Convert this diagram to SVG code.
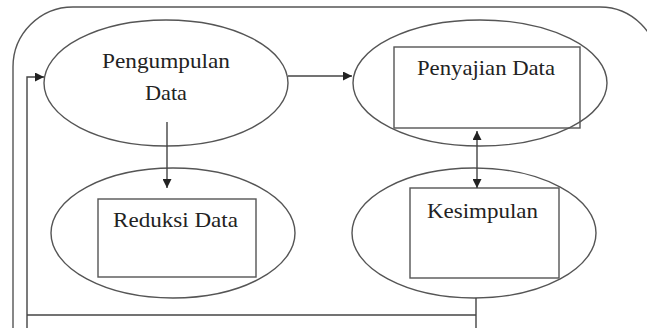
<svg xmlns="http://www.w3.org/2000/svg" width="647" height="328" viewBox="0 0 647 328">
  <defs>
    <style>
      .shape { fill: none; stroke: #555; stroke-width: 1.4; }
      .line { fill: none; stroke: #444; stroke-width: 1.4; }
      .label { font-family: "Liberation Serif", "Times New Roman", serif; font-size: 21px; fill: #222; text-anchor: middle; }
    </style>
    <marker id="arrow" viewBox="0 0 10 10" refX="10" refY="5" markerWidth="9" markerHeight="9" markerUnits="userSpaceOnUse" orient="auto-start-reverse">
      <path d="M0,0 L10,5 L0,10 Z" fill="#222"/>
    </marker>
  </defs>
  <rect width="647" height="328" fill="#fff"/>

  <g id="frame">
    <path class="shape" d="M13,328 L13,67 A60,60 0 0 1 73,7 L600,7 A58,58 0 0 1 658,65 L658,328"/>
  </g>

  <g id="pengumpulan">
    <ellipse class="shape" cx="166" cy="83" rx="122" ry="63"/>
    <text class="label" x="166" y="68" textLength="128" lengthAdjust="spacingAndGlyphs">Pengumpulan</text>
    <text class="label" x="166" y="100" textLength="42" lengthAdjust="spacingAndGlyphs">Data</text>
  </g>

  <g id="penyajian">
    <ellipse class="shape" cx="480" cy="83" rx="127" ry="63"/>
    <rect class="shape" x="394" y="47" width="186" height="81"/>
    <text class="label" x="486" y="75" textLength="138" lengthAdjust="spacingAndGlyphs">Penyajian Data</text>
  </g>

  <g id="reduksi">
    <ellipse class="shape" cx="173" cy="233" rx="122" ry="65"/>
    <rect class="shape" x="98" y="199" width="158" height="78"/>
    <text class="label" x="175.5" y="227" textLength="125" lengthAdjust="spacingAndGlyphs">Reduksi Data</text>
  </g>

  <g id="kesimpulan">
    <ellipse class="shape" cx="474" cy="233" rx="122" ry="65"/>
    <rect class="shape" x="410" y="188" width="149" height="90"/>
    <text class="label" x="482.5" y="218" textLength="111" lengthAdjust="spacingAndGlyphs">Kesimpulan</text>
  </g>

  <g id="connectors">
    <line class="line" x1="288" y1="76" x2="352" y2="76" marker-end="url(#arrow)"/>
    <line class="line" x1="167" y1="122" x2="167" y2="188" marker-end="url(#arrow)"/>
    <line class="line" x1="477" y1="131" x2="477" y2="188" marker-start="url(#arrow)" marker-end="url(#arrow)"/>
    <polyline class="line" points="476,328 476,298"/>
    <polyline class="line" points="476,315 27,315"/>
    <polyline class="line" points="27,328 27,77 44,77" marker-end="url(#arrow)"/>
  </g>
</svg>
